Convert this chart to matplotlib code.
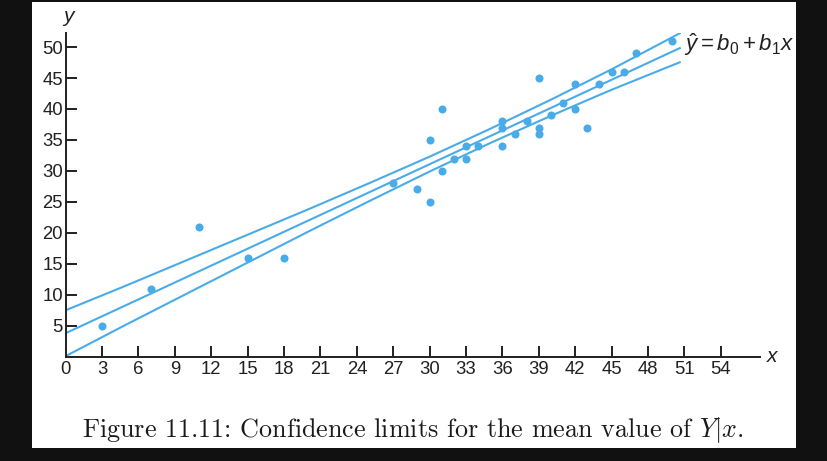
import matplotlib
matplotlib.use("Agg")
import matplotlib.pyplot as plt
from matplotlib.patches import Rectangle

# ---- data ----
x_vals = [3, 7, 11, 15, 18, 27, 29, 30, 30, 31, 31, 32, 33, 33, 34, 36, 36, 36,
          37, 38, 39, 39, 39, 40, 41, 42, 42, 43, 44, 45, 46, 47, 50]
y_vals = [5, 11, 21, 16, 16, 28, 27, 25, 35, 30, 40, 32, 34, 32, 34, 37, 38, 34,
          36, 38, 37, 36, 45, 39, 41, 40, 44, 37, 44, 46, 46, 49, 51]

fit_x = [0, 50.7]
fit_y = [3.8, 49.9]

band_x = [0, 5, 10, 15, 20, 25, 30, 35, 40, 45, 50.7]
upper_y = [7.5, 11.5, 15.6, 19.7, 23.8, 28.0, 32.3, 36.8, 41.5, 46.4, 52.3]
lower_y = [0.1, 5.2, 10.2, 15.2, 20.2, 25.1, 29.9, 34.5, 38.9, 43.1, 47.6]

x_ticks = [3, 6, 9, 12, 15, 18, 21, 24, 27, 30, 33, 36, 39, 42, 45, 48, 51, 54]
y_ticks = [5, 10, 15, 20, 25, 30, 35, 40, 45, 50]

caption = "Figure 11.11: Confidence limits for the mean value of $Y|x$."
eq_label = r"$\hat{y} = b_0 + b_1x$"

# ---- style ----
plt.rcParams['mathtext.fontset'] = 'custom'
plt.rcParams['mathtext.rm'] = 'Liberation Sans'
plt.rcParams['mathtext.it'] = 'Liberation Sans:italic'
BLUE = '#49ace8'
DARK = '#231f20'
W, H = 828, 461

fig = plt.figure(figsize=(W / 100, H / 100), dpi=100)
fig.patch.set_facecolor('#111111')
# white page
fig.add_artist(Rectangle((32 / W, 1 - 448 / H), (796 - 32) / W, (448 - 2) / H,
                         transform=fig.transFigure, facecolor='white',
                         edgecolor='none', zorder=0))

x0, y0 = 65.7, 356.7
x1, y1 = 760, 33
ax = fig.add_axes([x0 / W, 1 - y0 / H, (x1 - x0) / W, (y0 - y1) / H])
ax.set_facecolor('none')
ax.set_xlim(0, (x1 - x0) / 12.13)
ax.set_ylim(0, (y0 - y1) / 6.193)

for s in ['top', 'right']:
    ax.spines[s].set_visible(False)
for s in ['left', 'bottom']:
    ax.spines[s].set_color(DARK)
    ax.spines[s].set_linewidth(1.4)

ax.plot(band_x, upper_y, color=BLUE, lw=1.5, solid_capstyle='butt')
ax.plot(fit_x, fit_y, color=BLUE, lw=1.5, solid_capstyle='butt')
ax.plot(band_x, lower_y, color=BLUE, lw=1.5, solid_capstyle='butt')
ax.plot(x_vals, y_vals, 'o', color=BLUE, markersize=5.8, markeredgewidth=0, clip_on=False)

ax.set_xticks(x_ticks)
ax.set_xticklabels([str(v) for v in x_ticks])
ax.set_yticks(y_ticks)
ax.set_yticklabels([str(v) for v in y_ticks])
ax.tick_params(axis='both', direction='in', length=8, width=1.4, color=DARK,
               labelcolor=DARK, labelsize=13.3)
ax.tick_params(axis='x', pad=3)
ax.tick_params(axis='y', pad=2)
for lab in ax.get_xticklabels() + ax.get_yticklabels():
    lab.set_fontfamily('Liberation Sans')

# origin "0"
ax.text(0, -0.012, "0", transform=ax.get_xaxis_transform(), ha='center', va='top',
        fontsize=13.3, color=DARK, fontfamily='Liberation Sans')

# axis letters
fig.text(68 / W, 1 - 17 / H, "y", ha='center', va='center', fontsize=15,
         style='italic', color=DARK, fontfamily='Liberation Sans')
fig.text(772 / W, 1 - 356 / H, "x", ha='center', va='center', fontsize=15,
         style='italic', color=DARK, fontfamily='Liberation Sans')

# equation label
ax.text(50.95, fit_y[1] + 0.5, eq_label, ha='left', va='center', fontsize=16,
        color=DARK, math_fontfamily='custom')

# caption
fig.text(413 / W, 1 - 430 / H, caption, ha='center', va='center', fontsize=18.8,
         color='#1a1a1a', fontfamily='cmr10', math_fontfamily='cm')

fig.savefig('out.png', dpi=100, facecolor=fig.get_facecolor())
